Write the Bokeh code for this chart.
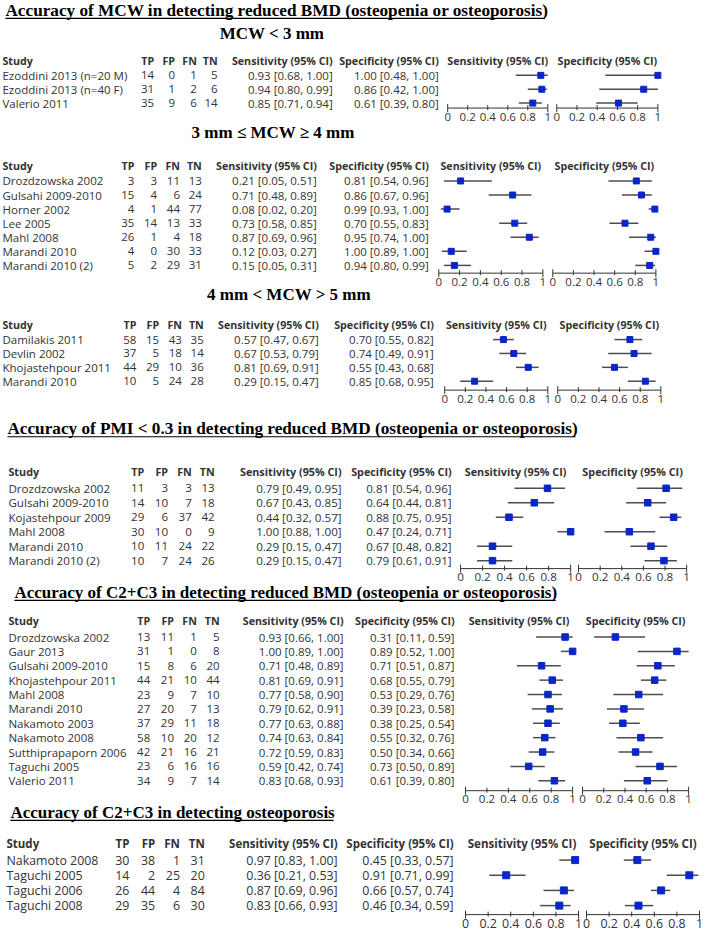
from bokeh.plotting import figure
from bokeh.models import Range1d
from bokeh.core.properties import value
from bokeh.embed import file_html
from bokeh.resources import INLINE

# ---------------- data ----------------
s1_study = ["Ezoddini 2013 (n=20 M)", "Ezoddini 2013 (n=40 F)", "Valerio 2011"]
s1_tp = [14, 31, 35]; s1_fp = [0, 1, 9]; s1_fn = [1, 2, 6]; s1_tn = [5, 6, 14]
s1_sens = [0.93, 0.94, 0.85]; s1_sens_lo = [0.68, 0.80, 0.71]; s1_sens_hi = [1.00, 0.99, 0.94]
s1_spec = [1.00, 0.86, 0.61]; s1_spec_lo = [0.48, 0.42, 0.39]; s1_spec_hi = [1.00, 1.00, 0.80]

s2_study = ["Drozdzowska 2002", "Gulsahi 2009-2010", "Horner 2002", "Lee 2005", "Mahl 2008",
            "Marandi 2010", "Marandi 2010 (2)"]
s2_tp = [3, 15, 4, 35, 26, 4, 5]; s2_fp = [3, 4, 1, 14, 1, 0, 2]
s2_fn = [11, 6, 44, 13, 4, 30, 29]; s2_tn = [13, 24, 77, 33, 18, 33, 31]
s2_sens = [0.21, 0.71, 0.08, 0.73, 0.87, 0.12, 0.15]
s2_sens_lo = [0.05, 0.48, 0.02, 0.58, 0.69, 0.03, 0.05]
s2_sens_hi = [0.51, 0.89, 0.20, 0.85, 0.96, 0.27, 0.31]
s2_spec = [0.81, 0.86, 0.99, 0.70, 0.95, 1.00, 0.94]
s2_spec_lo = [0.54, 0.67, 0.93, 0.55, 0.74, 0.89, 0.80]
s2_spec_hi = [0.96, 0.96, 1.00, 0.83, 1.00, 1.00, 0.99]

s3_study = ["Damilakis 2011", "Devlin 2002", "Khojastehpour 2011", "Marandi 2010"]
s3_tp = [58, 37, 44, 10]; s3_fp = [15, 5, 29, 5]; s3_fn = [43, 18, 10, 24]; s3_tn = [35, 14, 36, 28]
s3_sens = [0.57, 0.67, 0.81, 0.29]; s3_sens_lo = [0.47, 0.53, 0.69, 0.15]; s3_sens_hi = [0.67, 0.79, 0.91, 0.47]
s3_spec = [0.70, 0.74, 0.55, 0.85]; s3_spec_lo = [0.55, 0.49, 0.43, 0.68]; s3_spec_hi = [0.82, 0.91, 0.68, 0.95]

s4_study = ["Drozdzowska 2002", "Gulsahi 2009-2010", "Kojastehpour 2009", "Mahl 2008",
            "Marandi 2010", "Marandi 2010 (2)"]
s4_tp = [11, 14, 29, 30, 10, 10]; s4_fp = [3, 10, 6, 10, 11, 7]
s4_fn = [3, 7, 37, 0, 24, 24]; s4_tn = [13, 18, 42, 9, 22, 26]
s4_sens = [0.79, 0.67, 0.44, 1.00, 0.29, 0.29]
s4_sens_lo = [0.49, 0.43, 0.32, 0.88, 0.15, 0.15]
s4_sens_hi = [0.95, 0.85, 0.57, 1.00, 0.47, 0.47]
s4_spec = [0.81, 0.64, 0.88, 0.47, 0.67, 0.79]
s4_spec_lo = [0.54, 0.44, 0.75, 0.24, 0.48, 0.61]
s4_spec_hi = [0.96, 0.81, 0.95, 0.71, 0.82, 0.91]

s5_study = ["Drozdzowska 2002", "Gaur 2013", "Gulsahi 2009-2010", "Khojastehpour 2011", "Mahl 2008",
            "Marandi 2010", "Nakamoto 2003", "Nakamoto 2008", "Sutthiprapaporn 2006",
            "Taguchi 2005", "Valerio 2011"]
s5_tp = [13, 31, 15, 44, 23, 27, 37, 58, 42, 23, 34]
s5_fp = [11, 1, 8, 21, 9, 20, 29, 10, 21, 6, 9]
s5_fn = [1, 0, 6, 10, 7, 7, 11, 20, 16, 16, 7]
s5_tn = [5, 8, 20, 44, 10, 13, 18, 12, 21, 16, 14]
s5_sens = [0.93, 1.00, 0.71, 0.81, 0.77, 0.79, 0.77, 0.74, 0.72, 0.59, 0.83]
s5_sens_lo = [0.66, 0.89, 0.48, 0.69, 0.58, 0.62, 0.63, 0.63, 0.59, 0.42, 0.68]
s5_sens_hi = [1.00, 1.00, 0.89, 0.91, 0.90, 0.91, 0.88, 0.84, 0.83, 0.74, 0.93]
s5_spec = [0.31, 0.89, 0.71, 0.68, 0.53, 0.39, 0.38, 0.55, 0.50, 0.73, 0.61]
s5_spec_lo = [0.11, 0.52, 0.51, 0.55, 0.29, 0.23, 0.25, 0.32, 0.34, 0.50, 0.39]
s5_spec_hi = [0.59, 1.00, 0.87, 0.79, 0.76, 0.58, 0.54, 0.76, 0.66, 0.89, 0.80]

s6_study = ["Nakamoto 2008", "Taguchi 2005", "Taguchi 2006", "Taguchi 2008"]
s6_tp = [30, 14, 26, 29]; s6_fp = [38, 2, 44, 35]; s6_fn = [1, 25, 4, 6]; s6_tn = [31, 20, 84, 30]
s6_sens = [0.97, 0.36, 0.87, 0.83]; s6_sens_lo = [0.83, 0.21, 0.69, 0.66]; s6_sens_hi = [1.00, 0.53, 0.96, 0.93]
s6_spec = [0.45, 0.91, 0.66, 0.46]; s6_spec_lo = [0.33, 0.71, 0.57, 0.34]; s6_spec_hi = [0.57, 0.99, 0.74, 0.59]

tick_values = [0, 0.2, 0.4, 0.6, 0.8, 1]
tick_labels = ["0", "0.2", "0.4", "0.6", "0.8", "1"]
col_headers = ["Study", "TP", "FP", "FN", "TN", "Sensitivity (95% CI)", "Specificity (95% CI)"]

main_titles = ["Accuracy of MCW in detecting reduced BMD (osteopenia or osteoporosis)",
               "Accuracy of PMI < 0.3  in detecting reduced BMD (osteopenia or osteoporosis)",
               "Accuracy of C2+C3 in detecting reduced BMD (osteopenia or osteoporosis)",
               "Accuracy of C2+C3 in detecting osteoporosis"]
sub_titles = ["MCW  < 3 mm", "3 mm \u2264 MCW \u2265 4 mm", "4 mm < MCW > 5 mm"]

data = [
    (s1_study, s1_tp, s1_fp, s1_fn, s1_tn, s1_sens, s1_sens_lo, s1_sens_hi, s1_spec, s1_spec_lo, s1_spec_hi),
    (s2_study, s2_tp, s2_fp, s2_fn, s2_tn, s2_sens, s2_sens_lo, s2_sens_hi, s2_spec, s2_spec_lo, s2_spec_hi),
    (s3_study, s3_tp, s3_fp, s3_fn, s3_tn, s3_sens, s3_sens_lo, s3_sens_hi, s3_spec, s3_spec_lo, s3_spec_hi),
    (s4_study, s4_tp, s4_fp, s4_fn, s4_tn, s4_sens, s4_sens_lo, s4_sens_hi, s4_spec, s4_spec_lo, s4_spec_hi),
    (s5_study, s5_tp, s5_fp, s5_fn, s5_tn, s5_sens, s5_sens_lo, s5_sens_hi, s5_spec, s5_spec_lo, s5_spec_hi),
    (s6_study, s6_tp, s6_fp, s6_fn, s6_tn, s6_sens, s6_sens_lo, s6_sens_hi, s6_spec, s6_spec_lo, s6_spec_hi),
]

# ---------------- layout (reference-image pixels) ----------------
layout = [
    dict(name_x=4, cols=[157, 178, 200, 221], sens_r=337, spec_r=444, fa=(453, 554), fb=(563, 665),
         head_y=61, row0=75.5, step=14.0, axis_y=108.5, fs=11.5, ms=6),
    dict(name_x=4, cols=[137, 160, 183, 205], sens_r=321, spec_r=434, fa=(444, 549), fb=(559, 663),
         head_y=167, row0=182, step=14.2, axis_y=275, fs=11.5, ms=6),
    dict(name_x=4, cols=[139, 162, 185, 207], sens_r=323, spec_r=439, fa=(450, 554), fb=(564, 668),
         head_y=327, row0=342, step=14.0, axis_y=393, fs=11.5, ms=6),
    dict(name_x=10, cols=[147, 171, 195, 218], sens_r=346, spec_r=457, fa=(466, 577), fb=(585, 694),
         head_y=475, row0=492, step=14.6, axis_y=573, fs=11.6, ms=6.5),
    dict(name_x=10, cols=[153, 177, 200, 223], sens_r=348, spec_r=460, fa=(471, 579), fb=(589, 696),
         head_y=626, row0=642, step=14.5, axis_y=797, fs=11.5, ms=6.5),
    dict(name_x=8, cols=[132, 158, 183, 208], sens_r=342, spec_r=459, fa=(471, 585), fb=(593, 707),
         head_y=850, row0=867, step=15.3, axis_y=922, fs=12.4, ms=7),
]
HEAD_SCALE = 0.93
main_title_pos = [(7, 10, 551, 17.2), (9, 432, 582, 17.2), (16, 597, 562, 17), (12, 819, 338, 17)]
sub_title_pos = [(278, 33), (277, 133), (293, 297)]

TXT = "#333333"
SANS = value("Open Sans")
SERIF = value("Liberation Serif")

X0, X1 = 2, 710
p = figure(width=702, height=928, x_range=Range1d(X0, X1), y_range=Range1d(936, 0),
           output_backend="svg", toolbar_location=None, min_border=0,
           x_axis_location=None, y_axis_location=None)
p.grid.visible = False
p.outline_line_color = None
p.background_fill_color = "white"
p.border_fill_color = "white"


def add_forest_range(name, a, b):
    # forest value 0 -> reference pixel a, 1 -> reference pixel b
    span = (b - a)
    s = -(a - X0) / span
    e = s + (X1 - X0) / span
    p.extra_x_ranges[name] = Range1d(s, e)


for (tx, ty, ux, tfs), t in zip(main_title_pos, main_titles):
    p.text(x=[tx], y=[ty], text=[t], text_font=SERIF, text_font_style="bold",
           text_font_size=f"{tfs}px", text_baseline="middle", text_align="left", text_color="black")
    p.segment(x0=[tx], x1=[ux], y0=[ty + 8], y1=[ty + 8], line_color="black", line_width=1.2)

for (sx, sy), t in zip(sub_title_pos, sub_titles):
    p.text(x=[sx], y=[sy], text=[t], text_font=SERIF, text_font_style="bold",
           text_font_size="17px", text_baseline="middle", text_align="center", text_color="black")

for k, (L, D) in enumerate(zip(layout, data)):
    study, tp, fp, fn, tn, se, se_lo, se_hi, sp, sp_lo, sp_hi = D
    fs = f"{L['fs']}px"
    hfs = f"{L['fs'] * HEAD_SCALE:.2f}px"
    n = len(study)
    ys = [L["row0"] + i * L["step"] for i in range(n)]
    hy = L["head_y"]
    # header
    p.text(x=[L["name_x"]], y=[hy], text=[col_headers[0]], text_font=SANS, text_font_style="bold",
           text_font_size=hfs, text_baseline="middle", text_align="left", text_color=TXT)
    p.text(x=L["cols"], y=[hy] * 4, text=col_headers[1:5], text_font=SANS, text_font_style="bold",
           text_font_size=hfs, text_baseline="middle", text_align="right", text_color=TXT)
    p.text(x=[L["sens_r"], L["spec_r"]], y=[hy, hy], text=col_headers[5:7], text_font=SANS,
           text_font_style="bold", text_font_size=hfs, text_baseline="middle", text_align="right",
           text_color=TXT)
    # rows
    p.text(x=[L["name_x"]] * n, y=ys, text=study, text_font=SANS, text_font_size=fs,
           text_baseline="middle", text_align="left", text_color=TXT)
    for cx, col in zip(L["cols"], (tp, fp, fn, tn)):
        p.text(x=[cx] * n, y=ys, text=[str(v) for v in col], text_font=SANS, text_font_size=fs,
               text_baseline="middle", text_align="right", text_color=TXT)
    se_txt = [f"{a:.2f} [{b:.2f}, {c:.2f}]" for a, b, c in zip(se, se_lo, se_hi)]
    sp_txt = [f"{a:.2f} [{b:.2f}, {c:.2f}]" for a, b, c in zip(sp, sp_lo, sp_hi)]
    p.text(x=[L["sens_r"]] * n, y=ys, text=se_txt, text_font=SANS, text_font_size=fs,
           text_baseline="middle", text_align="right", text_color=TXT)
    p.text(x=[L["spec_r"]] * n, y=ys, text=sp_txt, text_font=SANS, text_font_size=fs,
           text_baseline="middle", text_align="right", text_color=TXT)
    # forest panels
    for j, (ab, est, lo, hi, head) in enumerate(((L["fa"], se, se_lo, se_hi, col_headers[5]),
                                                 (L["fb"], sp, sp_lo, sp_hi, col_headers[6]))):
        rn = f"f{k}_{j}"
        add_forest_range(rn, *ab)
        p.text(x=[0.5], y=[hy], text=[head], text_font=SANS, text_font_style="bold",
               text_font_size=hfs, text_baseline="middle", text_align="center", text_color=TXT,
               x_range_name=rn)
        p.segment(x0=lo, x1=hi, y0=ys, y1=ys, line_color="#4d4d4d", line_width=1.5, x_range_name=rn)
        p.scatter(x=est, y=ys, marker="square", size=L["ms"], fill_color="#0a26c8",
                  line_color="#0a26c8", x_range_name=rn)
        ay = L["axis_y"]
        p.segment(x0=[0], x1=[1], y0=[ay], y1=[ay], line_color="#333333", line_width=1,
                  x_range_name=rn)
        p.segment(x0=tick_values[1:-1], x1=tick_values[1:-1], y0=[ay - 3] * 4, y1=[ay + 2] * 4,
                  line_color="#333333", line_width=1, x_range_name=rn)
        p.segment(x0=[0, 1], x1=[0, 1], y0=[ay - 4] * 2, y1=[ay + 4] * 2,
                  line_color="#333333", line_width=1, x_range_name=rn)
        p.text(x=tick_values, y=[ay + 8.5] * 6, text=tick_labels, text_font=SANS,
               text_font_size=fs, text_baseline="middle", text_align="center",
               text_color=TXT, x_range_name=rn)

open("out.html", "w").write(file_html(p, INLINE))
